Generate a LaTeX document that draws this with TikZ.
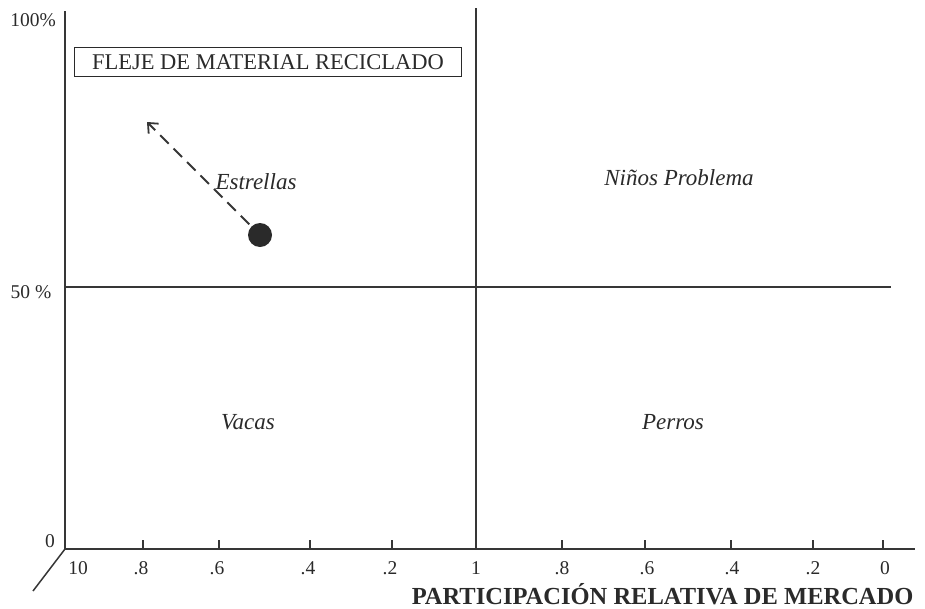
\documentclass[tikz,border=0pt]{standalone}
\usepackage{fontspec}
\setmainfont{Liberation Serif}
\usepackage{tikz}
\usetikzlibrary{arrows.meta}
\definecolor{ink}{HTML}{2A2A2A}
\definecolor{inkline}{HTML}{363636}

\begin{document}
\begin{tikzpicture}[x=1pt,y=-1pt,
    axisline/.style={inkline,line width=1.5pt},
    ticklab/.style={ink,font=\fontsize{19.5}{22}\selectfont},
    quadlab/.style={ink,font=\fontsize{23}{26}\selectfont\itshape},
    titlebox/.style={draw=inkline,line width=1.3pt,ink,inner xsep=6pt,minimum width=387pt,minimum height=29pt,font=\fontsize{22.5}{26}\selectfont},
    bigdot/.style={circle,fill=ink,minimum size=24pt,inner sep=0pt},
    trend/.style={inkline,line width=1.8pt,dash pattern=on 12pt off 7pt,-{Straight Barb[length=8pt,width=14pt]}}]
  \useasboundingbox (0,0) rectangle (925,608);
  % axes
  \coordinate (o) at (65,549);
  \coordinate (ytop) at (65,11);
  \coordinate (xend) at (915,549);
  \coordinate (slant) at (33,591);
  \draw[axisline] (ytop) -- (o) -- (xend);
  \draw[axisline] (o) -- (slant);
  % quadrant lines
  \coordinate (mtop) at (476,8);
  \coordinate (mbot) at (476,549);
  \coordinate (hl) at (65,287);
  \coordinate (hr) at (891,287);
  \draw[axisline] (mtop) -- (mbot);
  \draw[axisline] (hl) -- (hr);
  % ticks
  \foreach \x in {143,219,310,392,562,645,731,813,883}
    \draw[axisline] (\x,549) -- ++(0,-9);
  \foreach \x/\t in {78/10,141/.8,217/.6,308/.4,390/.2,476/1,562/.8,647/.6,732/.4,813/.2,885/0}
    \node[ticklab] (tl\x) at (\x,568) {\t};
  % y labels
  \node[ticklab] (y0) at (50,541) {0};
  \node[ticklab] (y50) at (31,292) {50 \%};
  \node[ticklab] (y100) at (33,20) {100\%};
  % title box
  \node[titlebox] (fleje) at (268,62) {FLEJE DE MATERIAL RECICLADO};
  % quadrants
  \node[quadlab] (estrellas) at (256,182) {Estrellas};
  \node[quadlab] (ninos) at (679,178) {Niños Problema};
  \node[quadlab] (vacas) at (248,422) {Vacas};
  \node[quadlab] (perros) at (673,422) {Perros};
  % product and its move
  \node[bigdot] (dot) at (260,235) {};
  \coordinate (tip) at (147,122);
  \draw[trend,shorten <=3pt] (dot) -- (tip);
  % x axis title
  \node[ink,font=\fontsize{24.5}{28}\selectfont\bfseries,anchor=east] (xtitle) at (917,594)
    {PARTICIPACIÓN RELATIVA DE MERCADO};
\end{tikzpicture}
\end{document}
